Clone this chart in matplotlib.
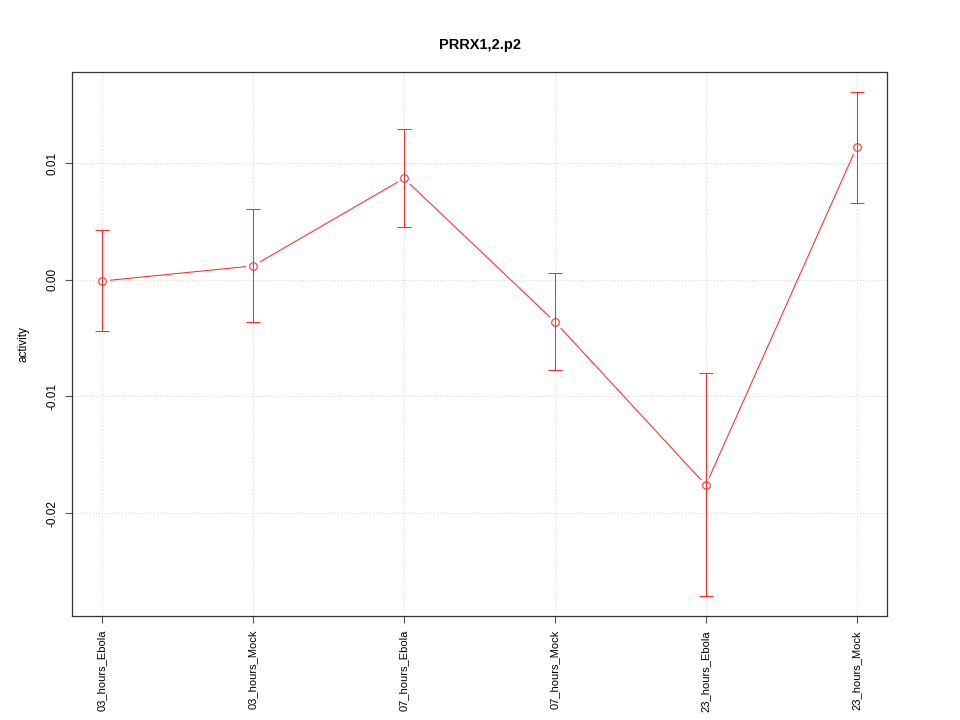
import matplotlib
matplotlib.use("Agg")
import matplotlib.pyplot as plt
import numpy as np

categories = ["03_hours_Ebola", "03_hours_Mock", "07_hours_Ebola",
              "07_hours_Mock", "23_hours_Ebola", "23_hours_Mock"]
activity = [-0.0001, 0.0012, 0.0087, -0.0036, -0.0176, 0.0114]
err_upper = [0.0043, 0.0061, 0.0129, 0.0006, -0.0080, 0.0161]
err_lower = [-0.0044, -0.0036, 0.0045, -0.0077, -0.0271, 0.0066]
title = "PRRX1,2.p2"
ylabel = "activity"
yticks = [-0.02, -0.01, 0.00, 0.01]
ytick_labels = ["-0.02", "-0.01", "0.00", "0.01"]

plt.rcParams['font.family'] = ['Liberation Sans', 'DejaVu Sans']
fig = plt.figure(figsize=(9.6, 7.2), dpi=100)
ax = fig.add_axes([72/960, 1-616/720, (887-72)/960, (616-72)/720])

x = np.arange(1, len(categories)+1)
act = np.array(activity)
up = np.array(err_upper)
lo = np.array(err_lower)
red = "#ff2a2a"

ax.grid(True, color="#d3d3d3", linestyle=(0, (1, 2)), linewidth=0.7)
ax.set_axisbelow(True)
ax.plot(x, act, color=red, linewidth=0.75, zorder=2)
ax.plot(x, act, linestyle="none", marker="o", markersize=11,
        markerfacecolor="white", markeredgecolor="none", zorder=3)
ax.errorbar(x, act, yerr=[act-lo, up-act], fmt="none", ecolor=red,
            elinewidth=0.75, capsize=5, capthick=0.75, zorder=5)
ax.plot(x, act, linestyle="none", marker="o", markersize=5.5,
        markerfacecolor="none", markeredgecolor=red, markeredgewidth=0.75, zorder=6)

ymin = min(lo.min(), act.min()); ymax = max(up.max(), act.max())
pad = (ymax-ymin)*0.04
ax.set_ylim(ymin-pad, ymax+pad)
ax.set_xlim(0.8, 6.2)
ax.set_xticks(x)
ax.set_xticklabels(categories, rotation=90, fontsize=8)
ax.set_yticks(yticks)
ax.set_yticklabels(ytick_labels, rotation=90, fontsize=8.5, va="center")
ax.tick_params(axis="both", length=5, color="#555555", width=0.8, pad=5)
ax.set_ylabel(ylabel, fontsize=8.5, labelpad=12)
for s in ax.spines.values():
    s.set_color("#333333")
    s.set_linewidth(0.9)
fig.suptitle(title, fontsize=10.5, fontweight="bold", y=1-45/720, va="center")
fig.savefig("out.png", dpi=100, facecolor="white")
